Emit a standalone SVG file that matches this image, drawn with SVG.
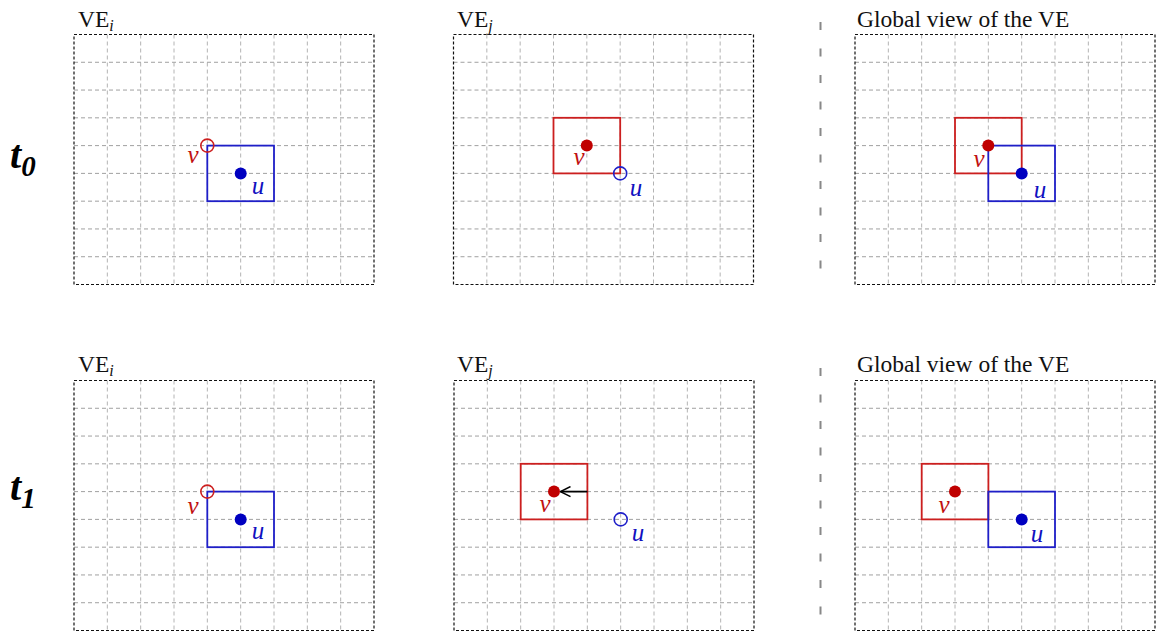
<svg xmlns="http://www.w3.org/2000/svg" width="1157" height="635" viewBox="0 0 1157 635">
<style>
.bg{fill:#fff}
.gv{stroke:#b4b4b4;stroke-width:1;stroke-dasharray:4,3;fill:none}
.gh{stroke:#a0a0a0;stroke-width:1;stroke-dasharray:4,3;fill:none}
.border{stroke:#111;stroke-width:1.2;stroke-dasharray:3,2;fill:none}
.title{font-family:"Liberation Serif",serif;font-size:23.5px;fill:#111}
.sub{font-style:italic;font-size:16px}
.tl{font-family:"Liberation Serif",serif;font-weight:bold;font-style:italic;font-size:40px;fill:#000}
.tls{font-size:29px}
.rrect{fill:none;stroke:#cc1f1f;stroke-width:1.8}
.brect{fill:none;stroke:#1f1fc8;stroke-width:1.8}
.rdot{fill:#c00000}
.bdot{fill:#0000c0}
.rcirc{fill:none;stroke:#cc1f1f;stroke-width:1.6}
.bcirc{fill:none;stroke:#1f1fc8;stroke-width:1.6}
.lv{font-family:"Liberation Serif",serif;font-style:italic;font-size:25px;fill:#c01010;text-anchor:middle}
.lu{font-family:"Liberation Serif",serif;font-style:italic;font-size:25px;fill:#1010c0;text-anchor:middle}
.sep{stroke:#888;stroke-width:2;stroke-dasharray:8,18.5}
</style>
<defs>
<g id="grid">
<path class="gv" d="M33.33,0V250M66.67,0V250M100,0V250M133.33,0V250M166.67,0V250M200,0V250M233.33,0V250M266.67,0V250"/>
<path class="gh" d="M0,27.78H300M0,55.56H300M0,83.33H300M0,111.11H300M0,138.89H300M0,166.67H300M0,194.44H300M0,222.22H300"/>
<rect class="border" x="0" y="0" width="300" height="250"/>
</g>
<marker id="arr" viewBox="0 0 12 12" refX="11" refY="6" markerWidth="12" markerHeight="12" markerUnits="userSpaceOnUse" orient="auto">
<path d="M1,1L11,6L1,11" fill="none" stroke="#000" stroke-width="1.6"/>
</marker>
</defs>
<rect class="bg" x="0" y="0" width="1157" height="635"/>

<g id="row-labels">
<text class="tl" x="10" y="168">t<tspan class="tls" dy="8">0</tspan></text>
<text class="tl" x="10" y="500">t<tspan class="tls" dy="8">1</tspan></text>
</g>

<g id="separators">
<line class="sep" x1="820.5" y1="22" x2="820.5" y2="286"/>
<line class="sep" x1="820.5" y1="368" x2="820.5" y2="632"/>
</g>

<g id="t0-VEi">
<text class="title" x="78" y="27">VE<tspan class="sub" dy="4">i</tspan></text>
<use href="#grid" x="74" y="34.5"/>
<rect class="brect" x="207.3" y="145.6" width="66.7" height="55.6"/>
<circle class="bdot" cx="240.7" cy="173.4" r="6"/>
<circle class="rcirc" cx="207.3" cy="145.6" r="6.5"/>
<text class="lv" x="193" y="163">v</text>
<text class="lu" x="258" y="194">u</text>
</g>

<g id="t0-VEj">
<text class="title" x="457" y="27">VE<tspan class="sub" dy="4">j</tspan></text>
<use href="#grid" x="453.5" y="34.5"/>
<rect class="rrect" x="553.5" y="117.8" width="66.7" height="55.6"/>
<circle class="rdot" cx="586.8" cy="145.6" r="6"/>
<circle class="bcirc" cx="620.2" cy="173.4" r="6.5"/>
<text class="lv" x="579" y="165">v</text>
<text class="lu" x="636" y="196">u</text>
</g>

<g id="t0-global">
<text class="title" x="857" y="27">Global view of the VE</text>
<use href="#grid" x="855" y="34.5"/>
<rect class="rrect" x="955" y="117.8" width="66.7" height="55.6"/>
<rect class="brect" x="988.3" y="145.6" width="66.7" height="55.6"/>
<circle class="rdot" cx="988.3" cy="145.6" r="6"/>
<circle class="bdot" cx="1021.7" cy="173.4" r="6"/>
<text class="lv" x="979" y="167">v</text>
<text class="lu" x="1040" y="198">u</text>
</g>

<g id="t1-VEi">
<text class="title" x="78" y="372">VE<tspan class="sub" dy="4">i</tspan></text>
<use href="#grid" x="74" y="380.5"/>
<rect class="brect" x="207.3" y="491.6" width="66.7" height="55.6"/>
<circle class="bdot" cx="240.7" cy="519.4" r="6"/>
<circle class="rcirc" cx="207.3" cy="491.6" r="6.5"/>
<text class="lv" x="193" y="514">v</text>
<text class="lu" x="258" y="539">u</text>
</g>

<g id="t1-VEj">
<text class="title" x="457" y="372">VE<tspan class="sub" dy="4">j</tspan></text>
<use href="#grid" x="454" y="380.5"/>
<rect class="rrect" x="520.7" y="463.8" width="66.7" height="55.6"/>
<circle class="rdot" cx="554" cy="491.6" r="6"/>
<circle class="bcirc" cx="620.7" cy="519.4" r="6.5"/>
<text class="lv" x="545" y="512">v</text>
<text class="lu" x="638" y="541">u</text>
</g>

<g id="t1-global">
<text class="title" x="857" y="372">Global view of the VE</text>
<use href="#grid" x="855" y="380.5"/>
<rect class="rrect" x="921.7" y="463.8" width="66.7" height="55.6"/>
<rect class="brect" x="988.3" y="491.6" width="66.7" height="55.6"/>
<circle class="rdot" cx="955" cy="491.6" r="6"/>
<circle class="bdot" cx="1021.7" cy="519.4" r="6"/>
<text class="lv" x="944" y="513">v</text>
<text class="lu" x="1037" y="542">u</text>
</g>

<g id="connectors">
<line x1="587.4" y1="491.6" x2="560.5" y2="491.6" stroke="#000" stroke-width="1.8" marker-end="url(#arr)"/>
</g>
</svg>
